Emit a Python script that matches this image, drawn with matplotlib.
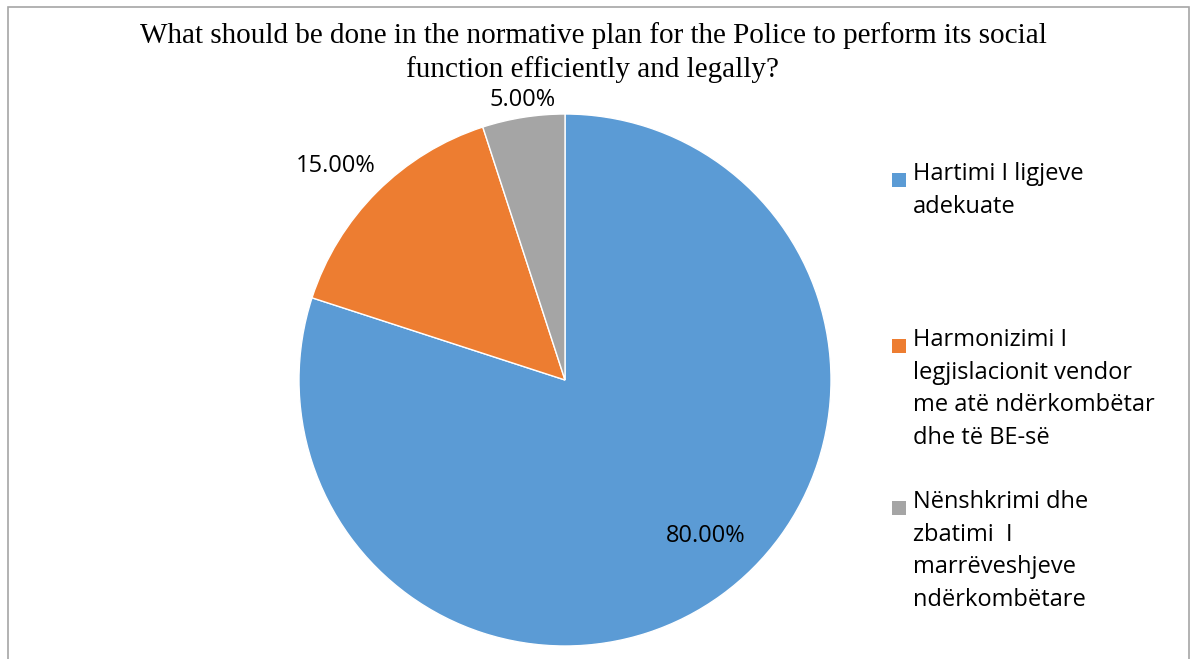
import numpy as np
import matplotlib.pyplot as plt
from matplotlib.patches import Rectangle

labels = ['Hartimi I ligjeve\nadekuate',
          'Harmonizimi I\nlegjislacionit vendor\nme atë ndërkombëtar\ndhe të BE-së',
          'Nënshkrimi dhe\nzbatimi  I\nmarrëveshjeve\nndërkombëtare']
values = [80, 15, 5]
colors = ['#5B9BD5', '#ED7D31', '#A5A5A5']
title = 'What should be done in the normative plan for the Police to perform its social\nfunction efficiently and legally?'

W, H = 1192, 659
fig = plt.figure(figsize=(W / 100, H / 100), dpi=100)

# outer chart frame (bottom edge is cut off in the original)
fig.add_artist(Rectangle((8 / W, -0.01), 1181 / W, 1 - 7 / H + 0.01, transform=fig.transFigure,
                         fill=False, edgecolor='#A6A6A6', linewidth=1.2))

fig.text(593 / W, 1 - 22 / H, title, ha='center', va='top', fontsize=21,
         family='Liberation Serif', linespacing=1.35)

# pie: centre (565, 380) px, radius 266 px
ax = fig.add_axes([299 / W, 13 / H, 532 / W, 532 / H])
wedges, texts, autotexts = ax.pie(values, colors=colors, startangle=90, counterclock=False,
                                  radius=1, autopct='%.2f%%',
                                  wedgeprops=dict(edgecolor='white', linewidth=1),
                                  textprops=dict(fontsize=17, family='Open Sans'))
ax.set_xlim(-1, 1)
ax.set_ylim(-1, 1)
ax.set_aspect('equal')
ax.axis('off')

# move value labels to where the original has them
lab_r = [0.79, 1.18, 1.065]
lab_ang = [-48, 137, 98.7]
for t, r, a in zip(autotexts, lab_r, lab_ang):
    t.set_position((r * np.cos(np.radians(a)), r * np.sin(np.radians(a))))
    t.set_ha('center')
    t.set_va('center')

# legend drawn by hand, entries evenly spaced
leg_y = [180, 346, 508]
for lab, c, y in zip(labels, colors, leg_y):
    fig.add_artist(Rectangle((892 / W, 1 - (y + 7) / H), 14 / W, 14 / H,
                             transform=fig.transFigure, facecolor=c, edgecolor='none'))
    fig.text(913 / W, 1 - (y - 18) / H, lab, ha='left', va='top', fontsize=17,
             family='Open Sans', linespacing=1.48)

fig.savefig('out.png', dpi=100)
